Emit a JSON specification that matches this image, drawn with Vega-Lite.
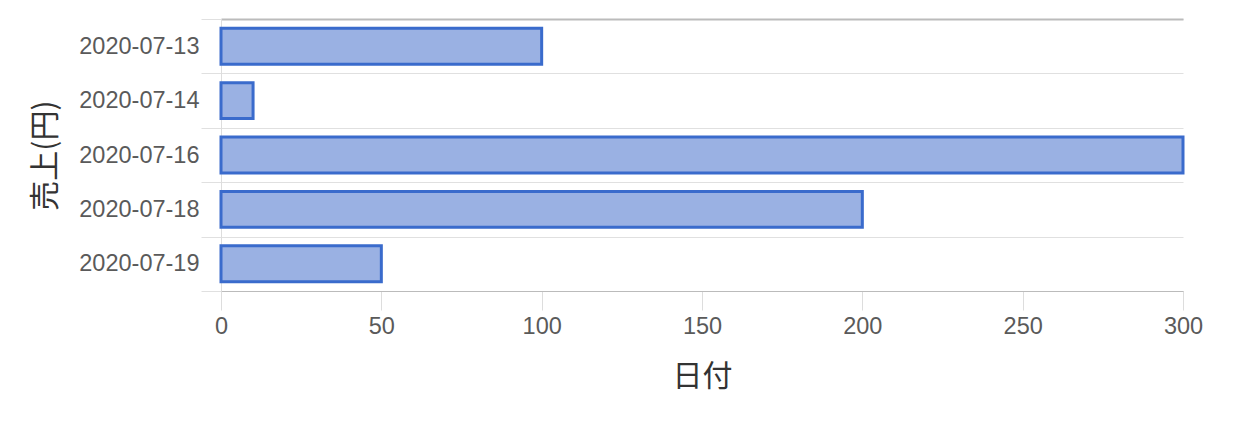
{"$schema": "https://vega.github.io/schema/vega-lite/v6.json",
  "width": 962,
  "height": 272,
  "autosize": "none",
  "padding": {"left": 221, "top": 19, "right": 77, "bottom": 137},
  "config": {
    "view": {"stroke": null},
    "font": "Liberation Sans",
    "axis": {"labelFont": "Liberation Sans", "labelColor": "#5a5a5a", "labelFontSize": 23.5,
             "titleFont": "Noto Sans CJK JP", "titleColor": "#333", "titleFontSize": 30, "titleFontWeight": "normal"}
  },
  "data": {
    "values": [
      {"date": "2020-07-13", "sales": 100},
      {"date": "2020-07-14", "sales": 10},
      {"date": "2020-07-16", "sales": 300},
      {"date": "2020-07-18", "sales": 200},
      {"date": "2020-07-19", "sales": 50}
    ]
  },
  "layer": [
    {
      "mark": {"type": "bar", "height": {"band": 0.66}, "fill": "#9ab1e3", "stroke": "#3a6bcc", "strokeWidth": 3},
      "encoding": {
        "y": {"field": "date", "type": "nominal", "sort": null,
              "scale": {"paddingInner": 0, "paddingOuter": 0},
              "axis": {"title": "売上(円)", "titlePadding": 18, "tickBand": "extent", "tickSize": 20,
                       "tickColor": "#e0e0e0", "grid": true, "gridColor": "#e0e0e0", "labelPadding": 2,
                       "domainColor": "#ddd"}},
        "x": {"field": "sales", "type": "quantitative", "scale": {"domain": [0, 300]},
              "axis": {"title": "日付", "titlePadding": 24, "tickCount": 6, "grid": false, "tickSize": 19,
                       "tickColor": "#ddd", "domainColor": "#bbb", "labelPadding": 4, "labelFlush": false}}
      }
    },
    {
      "mark": {"type": "bar", "opacity": 0},
      "encoding": {
        "y": {"field": "date", "type": "nominal", "sort": null},
        "x": {"field": "sales", "type": "quantitative",
              "axis": {"orient": "top", "title": null, "labels": false, "ticks": false, "grid": false,
                       "domainColor": "#bbb", "domainWidth": 2}}
      }
    }
  ],
  "resolve": {"axis": {"x": "independent"}}
}
